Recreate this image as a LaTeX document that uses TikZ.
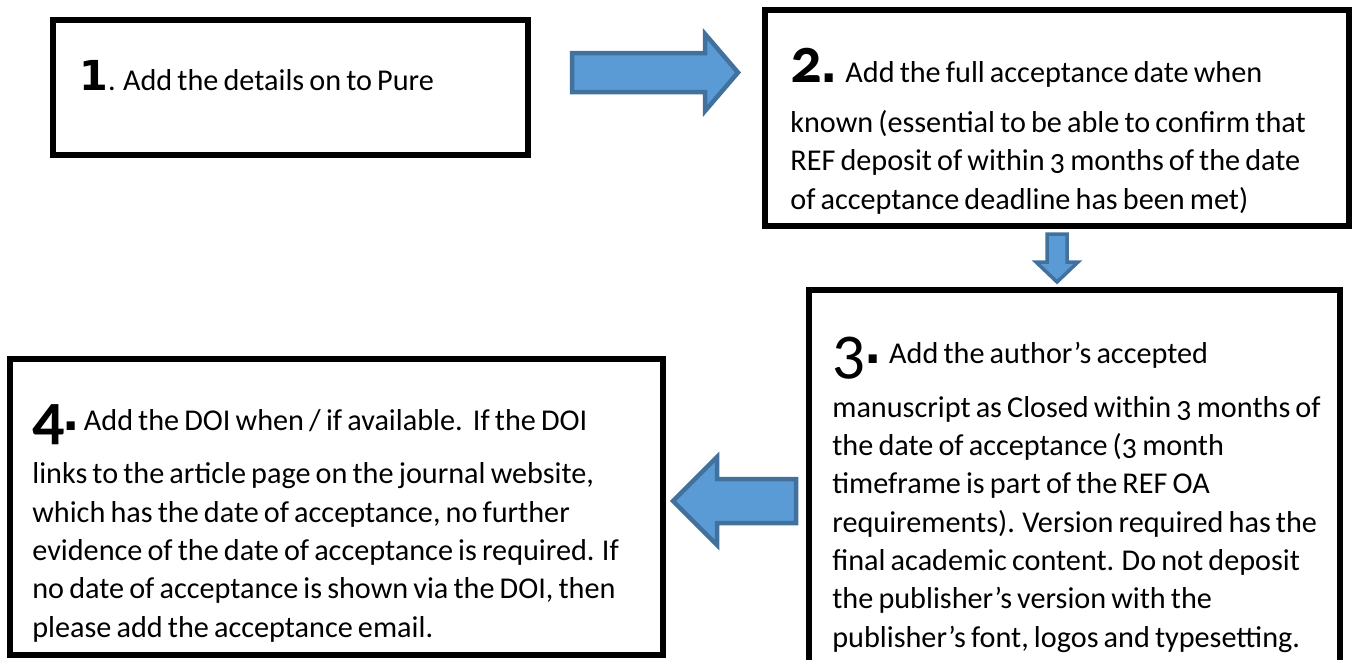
\documentclass[tikz,border=0pt]{standalone}
\usepackage{fontspec}
\setmainfont{Carlito}[Numbers=OldStyle, WordSpace=0.75]
\newfontfamily\onefont{DejaVu Sans}
\usepackage{xcolor}
\usetikzlibrary{positioning}

\definecolor{arrowfill}{RGB}{91,155,213}
\definecolor{arrowline}{RGB}{65,113,156}

\newcommand{\stepdot}{{\onefont\fontsize{26}{26}\selectfont\bfseries\hspace{-1pt}.\hspace{-2pt}}}
\newcommand{\stepnum}[2][0pt]{\raisebox{#1}{\fontsize{36}{36}\selectfont\bfseries #2}\stepdot}

\tikzset{
  stepbox/.style={rectangle, draw, line width=0.13cm, fill=white},
  steptext/.style={align=left, inner sep=0pt, font=\fontsize{17.2}{21.8}\selectfont},
  blockarrow/.style={draw=arrowline, fill=arrowfill, line width=0.09cm, line join=miter}
}

\begin{document}
\begin{tikzpicture}[x=0.02cm, y=-0.02cm]
\useasboundingbox (0,0) rectangle (1354,659);
\clip (0,0) rectangle (1354,659);

% Boxes
\node[stepbox, minimum width=9.5cm, minimum height=2.7cm] (box1) at (290.5,87.5) {};
\node[stepbox, minimum width=11.68cm, minimum height=4.32cm] (box2) at (1057,118) {};
\node[stepbox, minimum width=10.62cm, minimum height=8.2cm] (box3) at (1074.5,495) {};
\node[stepbox, minimum width=13.06cm, minimum height=5.92cm] (box4) at (336.5,507) {};

% Block arrows
\draw[blockarrow] (572,53) -- (705,53) -- (705,34) -- (738,72.5) -- (705,111) -- (705,92) -- (572,92) -- cycle;
\draw[blockarrow, line width=0.07cm] (1047,234) -- (1067,234) -- (1067,262) -- (1078,262) -- (1057,282) -- (1036,262) -- (1047,262) -- cycle;
\draw[blockarrow] (796,479) -- (717,479) -- (717,457) -- (673,501) -- (717,545) -- (717,523) -- (796,523) -- cycle;

% Step texts (anchored at the baseline of their last line)
\node[steptext, anchor=base west] (txt1) at (79,90) {{\onefont\fontsize{23.5}{23.5}\selectfont\bfseries 1}. Add the details on to Pure};
\node[steptext, anchor=base west] (txt2) at (790,209) {\stepnum{2}\hspace{2pt} Add the full acceptance date when\\[6.7pt]
known (essential to be able to confirm that\\
REF deposit of within 3 months of the date\\
of acceptance deadline has been met)};
\node[steptext, anchor=base west] (txt3) at (832,647) {\raisebox{-5pt}{\fontsize{38}{38}\selectfont 3}\stepdot\hspace{2pt} Add the author’s accepted\\[8.9pt]
manuscript as Closed within 3 months of\\
the date of acceptance (3 month\\
timeframe is part of the REF OA\\
requirements). Version required has the\\
final academic content. Do not deposit\\
the publisher’s version with the\\
publisher’s font, logos and typesetting.};
\node[steptext, anchor=base west] (txt4) at (32,637) {\stepnum[-4.5pt]{4} Add the DOI when / if available.\ \ If the DOI\\[8.4pt]
links to the article page on the journal website,\\
which has the date of acceptance, no further\\
evidence of the date of acceptance is required. If\\
no date of acceptance is shown via the DOI, then\\
please add the acceptance email.};
\end{tikzpicture}
\end{document}
